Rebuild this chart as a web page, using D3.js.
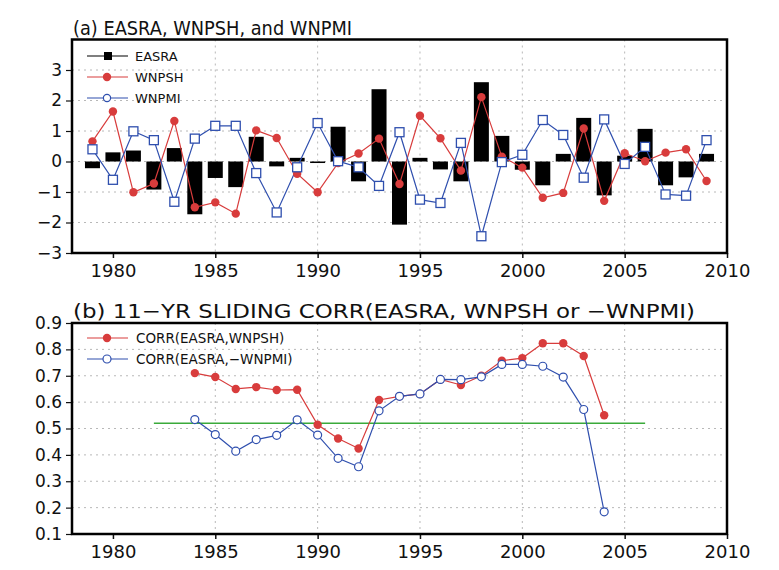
<!DOCTYPE html>
<html><head><meta charset="utf-8">
<script src="https://cdn.jsdelivr.net/npm/d3@7"></script>
<style>body{margin:0;background:#fff}svg{display:block}text{font-family:"DejaVu Sans",sans-serif;fill:#111}</style>
</head><body>
<svg id="chart" width="779" height="570"></svg>
<script>
const years = d3.range(1979, 2010);
const easra = [-0.22,0.30,0.36,-0.92,0.44,-1.73,-0.54,-0.84,0.81,-0.16,0.12,-0.05,1.14,-0.65,2.37,-2.07,0.12,-0.26,-0.65,2.60,0.84,-0.27,-0.78,0.25,1.43,-1.11,0.19,1.07,-0.78,-0.52,0.25];
const wnpsh = [0.66,1.64,-1.01,-0.72,1.33,-1.50,-1.34,-1.71,1.02,0.77,-0.40,-1.01,-0.05,0.26,0.75,-0.74,1.50,0.76,-0.30,2.11,0.16,-0.20,-1.19,-1.03,1.08,-1.29,0.27,0.01,0.29,0.40,-0.64];
const wnpmi = [0.40,-0.60,0.99,0.70,-1.32,0.75,1.17,1.17,-0.38,-1.67,-0.19,1.26,0.01,-0.19,-0.80,0.96,-1.25,-1.36,0.61,-2.45,-0.02,0.22,1.36,0.87,-0.53,1.38,-0.08,0.48,-1.08,-1.12,0.70];

const corrYears = d3.range(1984, 2005);
const corrWnpsh = [0.710,0.695,0.650,0.657,0.646,0.647,0.514,0.462,0.424,0.608,0.622,0.631,0.686,0.665,0.700,0.757,0.767,0.823,0.823,0.775,0.550];
const corrWnpmi = [0.534,0.477,0.414,0.458,0.474,0.533,0.475,0.387,0.355,0.567,0.622,0.631,0.686,0.685,0.696,0.743,0.743,0.736,0.695,0.572,0.184];
const sigLevel = 0.52;
const sigYears = [1982, 2006];

const xTicks = [1980,1985,1990,1995,2000,2005,2010];
const yTicksA = [-3,-2,-1,0,1,2,3];
const yTicksB = [0.1,0.2,0.3,0.4,0.5,0.6,0.7,0.8,0.9];

const titleA = "(a) EASRA, WNPSH, and WNPMI";
const titleB = "(b) 11\u2212YR SLIDING CORR(EASRA, WNPSH or \u2212WNPMI)";
const legendA = ["EASRA","WNPSH","WNPMI"];
const legendB = ["CORR(EASRA,WNPSH)","CORR(EASRA,\u2212WNPMI)"];

const RED = "#d83c3c", BLUE = "#2f4fae", GREEN = "#3aaa3a";
const svg = d3.select("#chart");
const L = 72, R = 727;
const x = d3.scaleLinear().domain([1978, 2010]).range([L, R]);
const ya = d3.scaleLinear().domain([-3, 4]).range([253, 39.5]);
const yb = d3.scaleLinear().domain([0.1, 0.9]).range([534, 323]);

function panel(y, yTicks, fmt, top, bottom) {
  const g = svg.append("g");
  // grid
  g.selectAll(".gx").data(xTicks.slice(1, -1)).join("line")
    .attr("x1", d => x(d)).attr("x2", d => x(d)).attr("y1", top).attr("y2", bottom)
    .attr("stroke", "#b8b8b8").attr("stroke-width", 1).attr("stroke-dasharray", "2,4");
  g.selectAll(".gy").data(yTicks.slice(1)).join("line")
    .attr("x1", L).attr("x2", R).attr("y1", d => y(d)).attr("y2", d => y(d))
    .attr("stroke", "#b8b8b8").attr("stroke-width", 1).attr("stroke-dasharray", "2,4");
  // axes
  const ax = g.append("g").attr("transform", `translate(0,${bottom})`)
    .call(d3.axisBottom(x).tickValues(xTicks).tickFormat(d3.format("d")).tickSize(5).tickPadding(6));
  ax.select(".domain").remove();
  ax.selectAll("text").attr("font-size", 18).style("font-family", '"DejaVu Sans",sans-serif').attr("fill", "#111");
  ax.selectAll("line").attr("stroke", "#111").attr("stroke-width", 1.5);
  const ay = g.append("g").attr("transform", `translate(${L},0)`)
    .call(d3.axisLeft(y).tickValues(yTicks).tickFormat(fmt).tickSize(6).tickPadding(4));
  ay.select(".domain").remove();
  ay.selectAll("text").attr("font-size", 17).style("font-family", '"DejaVu Sans",sans-serif').attr("fill", "#111");
  ay.selectAll("line").attr("stroke", "#111").attr("stroke-width", 1.2);
  return g;
}
function frame(top, bottom) {
  svg.append("rect").attr("x", L).attr("y", top).attr("width", R - L).attr("height", bottom - top)
    .attr("fill", "none").attr("stroke", "#000").attr("stroke-width", 2.5);
}

// ---------- Panel (a)
const topA = ya.range()[1], botA = ya.range()[0];
panel(ya, yTicksA, d => d < 0 ? "\u2212" + Math.abs(d) : d, topA, botA);
const bw = 15;
svg.append("g").selectAll("rect").data(years).join("rect")
  .attr("x", d => x(d) - bw / 2).attr("width", bw)
  .attr("y", (d, i) => ya(Math.max(0, easra[i])))
  .attr("height", (d, i) => Math.abs(ya(easra[i]) - ya(0)))
  .attr("fill", "#000");
const line = (yS) => d3.line().x(d => x(d[0])).y(d => yS(d[1]));
svg.append("path").datum(years.map((d, i) => [d, wnpsh[i]])).attr("d", line(ya))
  .attr("fill", "none").attr("stroke", RED).attr("stroke-width", 1.2);
svg.append("path").datum(years.map((d, i) => [d, wnpmi[i]])).attr("d", line(ya))
  .attr("fill", "none").attr("stroke", BLUE).attr("stroke-width", 1.2);
svg.append("g").selectAll("circle").data(years).join("circle")
  .attr("cx", d => x(d)).attr("cy", (d, i) => ya(wnpsh[i])).attr("r", 4.2).attr("fill", RED);
svg.append("g").selectAll("rect").data(years).join("rect")
  .attr("x", d => x(d) - 4.5).attr("y", (d, i) => ya(wnpmi[i]) - 4.5).attr("width", 9).attr("height", 9)
  .attr("fill", "#fff").attr("stroke", BLUE).attr("stroke-width", 1.3);
frame(topA, botA);
svg.append("text").attr("x", 73).attr("y", 35).attr("font-size", 20).attr("textLength", 279)
  .attr("lengthAdjust", "spacingAndGlyphs").text(titleA);
// legend (a)
const lgA = svg.append("g");
const lgAy = [56, 77, 98];
[["#000"], [RED], [BLUE]].forEach((c, i) => {
  lgA.append("line").attr("x1", 87).attr("x2", 128).attr("y1", lgAy[i]).attr("y2", lgAy[i])
    .attr("stroke", c[0]).attr("stroke-width", 1.2);
  lgA.append("text").attr("x", 135).attr("y", lgAy[i] + 5).attr("font-size", 13).text(legendA[i]);
});
lgA.append("rect").attr("x", 104).attr("y", lgAy[0] - 4).attr("width", 8).attr("height", 8).attr("fill", "#000");
lgA.append("circle").attr("cx", 107).attr("cy", lgAy[1]).attr("r", 4.2).attr("fill", RED);
lgA.append("circle").attr("cx", 107).attr("cy", lgAy[2]).attr("r", 3.6).attr("fill", "#fff").attr("stroke", BLUE).attr("stroke-width", 1.2);

// ---------- Panel (b)
const topB = yb.range()[1], botB = yb.range()[0];
panel(yb, yTicksB, d3.format(".1f"), topB, botB);
svg.append("line").attr("x1", x(sigYears[0])).attr("x2", x(sigYears[1]))
  .attr("y1", yb(sigLevel)).attr("y2", yb(sigLevel)).attr("stroke", GREEN).attr("stroke-width", 1.3);
svg.append("path").datum(corrYears.map((d, i) => [d, corrWnpsh[i]])).attr("d", line(yb))
  .attr("fill", "none").attr("stroke", RED).attr("stroke-width", 1.2);
svg.append("path").datum(corrYears.map((d, i) => [d, corrWnpmi[i]])).attr("d", line(yb))
  .attr("fill", "none").attr("stroke", BLUE).attr("stroke-width", 1.2);
svg.append("g").selectAll("circle").data(corrYears).join("circle")
  .attr("cx", d => x(d)).attr("cy", (d, i) => yb(corrWnpsh[i])).attr("r", 4.2).attr("fill", RED);
svg.append("g").selectAll("circle").data(corrYears).join("circle")
  .attr("cx", d => x(d)).attr("cy", (d, i) => yb(corrWnpmi[i])).attr("r", 4)
  .attr("fill", "#fff").attr("stroke", BLUE).attr("stroke-width", 1.2);
frame(topB, botB);
svg.append("text").attr("x", 73).attr("y", 318).attr("font-size", 20).attr("textLength", 622)
  .attr("lengthAdjust", "spacingAndGlyphs").text(titleB);
const lgB = svg.append("g");
const lgBy = [338, 359];
[RED, BLUE].forEach((c, i) => {
  lgB.append("line").attr("x1", 87).attr("x2", 128).attr("y1", lgBy[i]).attr("y2", lgBy[i])
    .attr("stroke", c).attr("stroke-width", 1.2);
  lgB.append("text").attr("x", 136).attr("y", lgBy[i] + 5).attr("font-size", 13.5).text(legendB[i]);
});
lgB.append("circle").attr("cx", 107).attr("cy", lgBy[0]).attr("r", 4.2).attr("fill", RED);
lgB.append("circle").attr("cx", 107).attr("cy", lgBy[1]).attr("r", 4).attr("fill", "#fff").attr("stroke", BLUE).attr("stroke-width", 1.2);
</script>
</body></html>
